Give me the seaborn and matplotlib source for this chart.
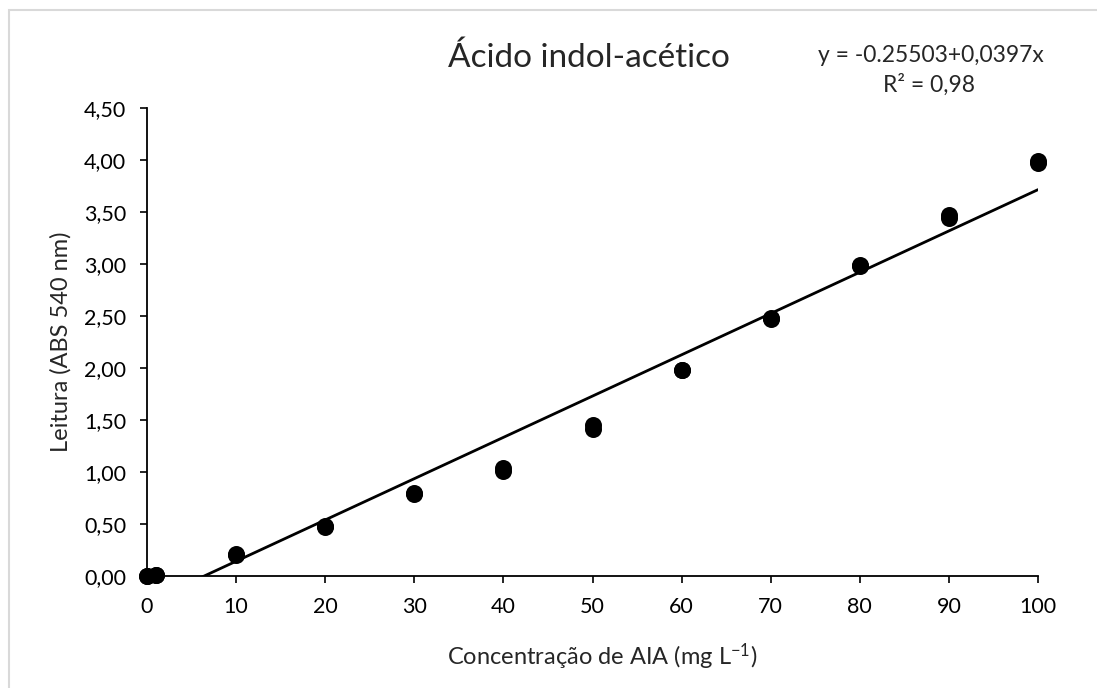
import matplotlib
matplotlib.use("Agg")
import matplotlib.pyplot as plt
import seaborn as sns
import numpy as np
import pandas as pd
from matplotlib.patches import Rectangle

# Data
conc = [0, 0, 1, 1, 10, 10, 20, 20, 30, 30, 40, 40, 50, 50, 60, 60, 70, 70, 80, 80, 90, 90, 100, 100]
absorb = [0.0, 0.0, 0.01, 0.01, 0.20, 0.21, 0.47, 0.48, 0.79, 0.80, 1.01, 1.04, 1.41, 1.45, 1.98, 1.98,
          2.47, 2.48, 2.98, 2.99, 3.44, 3.47, 3.97, 3.99]
intercept = -0.25503
slope = 0.0397
x_ticks = [0, 10, 20, 30, 40, 50, 60, 70, 80, 90, 100]
y_ticks = [0.0, 0.5, 1.0, 1.5, 2.0, 2.5, 3.0, 3.5, 4.0, 4.5]
title = "Ácido indol-acético"
eq_text = "y = -0.25503+0,0397x"
r2_text = "R² = 0,98"

sns.set_style("white")
plt.rcParams['font.family'] = ['Lato', 'DejaVu Sans']
plt.rcParams['mathtext.default'] = 'regular'

W, H = 1097, 688
fig = plt.figure(figsize=(W / 100, H / 100), dpi=100)
ax = fig.add_axes([147 / W, 1 - 576 / H, (1038 - 147) / W, (576 - 108) / H])

df = pd.DataFrame({"x": conc, "y": absorb})
fit_x = np.array([0.0, 100.0])
line_df = pd.DataFrame({"x": fit_x, "y": intercept + slope * fit_x})

sns.lineplot(data=line_df, x="x", y="y", ax=ax, color="black", linewidth=2)
sns.scatterplot(data=df, x="x", y="y", ax=ax, color="black", s=150, edgecolor="black",
                linewidth=0, zorder=5, clip_on=False)

ax.set_xlim(0, 100)
ax.set_ylim(0, 4.5)
ax.set_xticks(x_ticks)
ax.set_yticks(y_ticks)
ax.set_xticklabels([str(v) for v in x_ticks])
ax.set_yticklabels([f"{v:.2f}".replace(".", ",") for v in y_ticks])
ax.tick_params(axis="both", labelsize=15.5, colors="black", length=5, width=1.2, direction="out",
               bottom=True, left=True, pad=10)
for side in ["top", "right"]:
    ax.spines[side].set_visible(False)
for side in ["left", "bottom"]:
    ax.spines[side].set_color("black")
    ax.spines[side].set_linewidth(1.3)

ax.set_xlabel("Concentração de AIA (mg L$^{-1}$)", fontsize=17)
ax.set_ylabel("Leitura (ABS 540 nm)", fontsize=17)
ax.xaxis.label.set_va("center")
ax.yaxis.label.set_va("center")
ax.xaxis.set_label_coords((602 - 147) / 891, (576 - 657) / 468)
ax.yaxis.set_label_coords((61 - 147) / 891, 0.5)

fig.text(589 / W, 1 - 58 / H, title, ha="center", va="center", fontsize=24)
fig.text(931 / W, 1 - 55 / H, eq_text, ha="center", va="center", fontsize=16.5)
fig.text(929 / W, 1 - 85 / H, r2_text, ha="center", va="center", fontsize=16.5)

fig.patches.append(Rectangle((9 / W, -0.05), 1.2, 1 - 10 / H + 0.05, transform=fig.transFigure,
                             fill=False, edgecolor="#d9d9d9", linewidth=1.5, clip_on=False))

fig.savefig("out.png", dpi=100)
